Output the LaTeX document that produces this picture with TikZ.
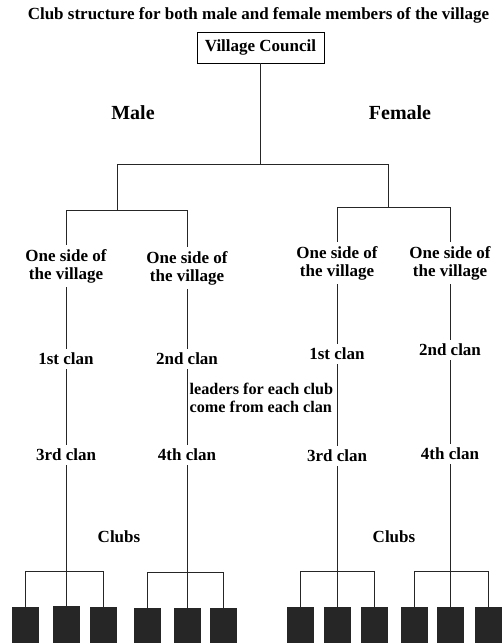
\documentclass[tikz,border=0pt]{standalone}
\usepackage{fontspec}
\setmainfont{Liberation Serif}
\begin{document}
\begin{tikzpicture}[x=1pt,y=-1pt,
  lbl/.style={font=\fontsize{17}{18}\selectfont\bfseries, inner sep=4pt, align=center},
  big/.style={font=\fontsize{20}{22}\selectfont\bfseries, inner sep=2pt},
  vbox/.style={draw, line width=0.8pt, minimum width=127pt, minimum height=31pt, inner sep=0pt, font=\fontsize{17}{18}\selectfont\bfseries},
  club/.style={fill=black!85, draw=none, minimum width=27pt, minimum height=37pt, inner sep=0pt, anchor=north},
  ln/.style={line width=0.7pt, black!85}]
\useasboundingbox (0,0) rectangle (502,643);
\node[lbl] (title) at (258.5,15) {Club structure for both male and female members of the village};
\node[vbox] (vc) at (260.5,47.5) {Village Council};
\node[big] (male) at (133,113) {Male};
\node[big] (female) at (400,113) {Female};
% junctions
\coordinate (top) at (260.5,164);
\coordinate (tl) at (117,164);
\coordinate (tr) at (388,164);
\coordinate (ml) at (117,210);
\coordinate (mr) at (388,207);
\coordinate (ml1) at (66,210);
\coordinate (ml2) at (187,210);
\coordinate (mr1) at (337,207);
\coordinate (mr2) at (450,207);
% side nodes
\node[lbl] (s1) at (66,266) {One side of\\the village};
\node[lbl] (s2) at (187,268) {One side of\\the village};
\node[lbl] (s3) at (337,263) {One side of\\the village};
\node[lbl] (s4) at (450,263) {One side of\\the village};
% clans
\node[lbl] (c1) at (66,359) {1st clan};
\node[lbl] (c2) at (187,359) {2nd clan};
\node[lbl] (c3) at (337,354) {1st clan};
\node[lbl] (c4) at (450,350) {2nd clan};
\node[lbl] (d1) at (66,455) {3rd clan};
\node[lbl] (d2) at (187,455) {4th clan};
\node[lbl] (d3) at (337,456) {3rd clan};
\node[lbl] (d4) at (450,454) {4th clan};
\node[lbl, font=\fontsize{16.2}{17.5}\selectfont\bfseries, anchor=west, align=left, inner sep=1pt] (lead) at (188.5,398) {leaders for each club\\come from each clan};
\node[lbl] (clubm) at (119,537) {Clubs};
\node[lbl] (clubf) at (394,537) {Clubs};
% bracket junctions
\coordinate (b1) at (66,571);
\coordinate (b2) at (187,572);
\coordinate (b3) at (337,571);
\coordinate (b4) at (450,571);
% clubs
\node[club] (k11) at (25.5,607) {};
\node[club] (k12) at (66,606) {};
\node[club] (k13) at (103.5,607) {};
\node[club] (k21) at (147.5,608) {};
\node[club] (k22) at (187,608) {};
\node[club] (k23) at (223,608) {};
\node[club] (k31) at (300,607) {};
\node[club] (k32) at (337,607) {};
\node[club] (k33) at (374,607) {};
\node[club] (k41) at (414.5,607) {};
\node[club] (k42) at (450,607) {};
\node[club] (k43) at (488.5,607) {};
% connectors
\draw[ln] (vc.south) -- (top);
\draw[ln] (ml) -- (tl) -- (tr) -- (mr);
\draw[ln] (ml1 |- s1.north) -- (ml1) -- (ml2) -- (s2.north);
\draw[ln] (mr1 |- s3.north) -- (mr1) -- (mr2) -- (s4.north);
\foreach \i in {1,2,3,4} {
  \draw[ln] (s\i.south) -- (c\i.north);
  \draw[ln] (c\i.south) -- (d\i.north);
  \draw[ln] (d\i.south) -- (b\i);
  \draw[ln] (k\i1.north) -- (k\i1.north |- b\i) -- (k\i3.north |- b\i) -- (k\i3.north);
  \draw[ln] (b\i) -- (k\i2.north);
}
\end{tikzpicture}
\end{document}
